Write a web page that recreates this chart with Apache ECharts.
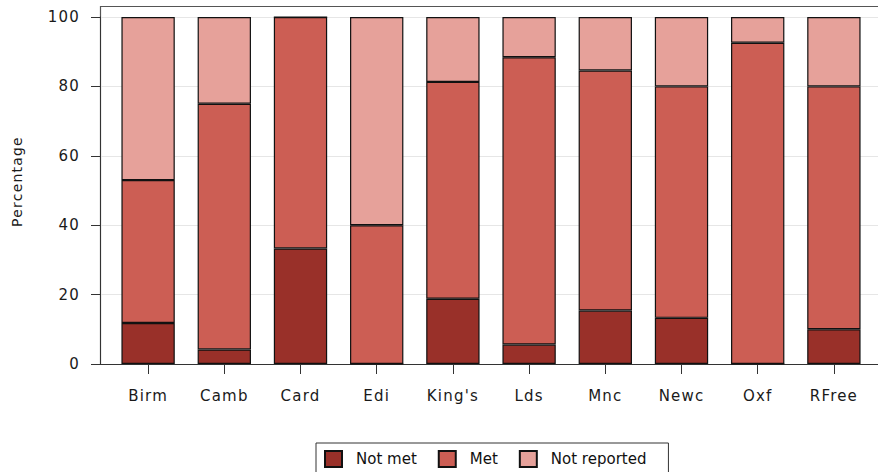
<!DOCTYPE html>
<html>
<head>
<meta charset="utf-8">
<script src="https://cdn.jsdelivr.net/npm/echarts@6/dist/echarts.min.js"></script>
<style>
  html, body { margin: 0; padding: 0; background: #fff; }
  #chart { width: 878px; height: 472px; }
  #chart text[style*="sans-serif"] { letter-spacing: 1.2px; }
</style>
</head>
<body>
<div id="chart"></div>
<script>
const categories = ['Birm', 'Camb', 'Card', 'Edi', "King's", 'Lds', 'Mnc', 'Newc', 'Oxf', 'RFree'];
const notMet = [11.8, 4.2, 33.3, 0, 18.8, 5.6, 15.4, 13.3, 0, 10];
const met = [41.2, 70.8, 66.7, 40, 62.5, 82.8, 69.2, 66.7, 92.6, 70];
const notReported = [47.0, 25, 0, 60, 18.7, 11.6, 15.4, 20, 7.4, 20];
const yTicks = [0, 20, 40, 60, 80, 100];

const axisFont = { fontFamily: 'DejaVu Sans, sans-serif', fontSize: 15, color: '#1a1a1a' };
const barBorder = { borderColor: '#111', borderWidth: 1.2 };

const chart = echarts.init(document.getElementById('chart'), null, { renderer: 'svg' });
chart.setOption({
  animation: false,
  backgroundColor: '#fff',
  grid: [
    { left: 100, right: 0, top: 17, bottom: 108 },
    { left: 110, right: 6, top: 17, bottom: 108 }
  ],
  xAxis: [
    { gridIndex: 0, type: 'value', min: 0, max: 1, position: 'bottom',
      axisLine: { show: true, lineStyle: { color: '#333', width: 1 } },
      axisTick: { show: false }, axisLabel: { show: false }, splitLine: { show: false } },
    { gridIndex: 1, type: 'category', data: categories,
      axisLine: { show: false },
      axisTick: { show: true, alignWithLabel: true, length: 10, lineStyle: { color: '#333' } },
      axisLabel: Object.assign({ margin: 24, interval: 0 }, axisFont) }
  ],
  yAxis: [
    { gridIndex: 0, type: 'value', min: yTicks[0], max: yTicks[yTicks.length - 1], interval: 20,
      name: 'Percentage', nameLocation: 'middle', nameGap: 76,
      nameTextStyle: Object.assign({ padding: [0, 0, 0, 18] }, axisFont, { fontSize: 14 }),
      axisLine: { show: true, lineStyle: { color: '#333', width: 1 } },
      axisTick: { show: true, length: 9, lineStyle: { color: '#333' } },
      axisLabel: Object.assign({ margin: 20 }, axisFont),
      splitLine: { show: true, lineStyle: { color: '#e6e6e6', width: 1 } } },
    { gridIndex: 1, type: 'value', min: 0, max: 100, show: false }
  ],
  legend: {
    left: 316, top: 443,
    padding: [7, 22, 6, 8],
    borderColor: '#333', borderWidth: 1,
    itemWidth: 17, itemHeight: 16, itemGap: 21,
    icon: 'rect',
    textStyle: { fontFamily: 'DejaVu Sans', fontSize: 15, color: '#111', padding: [0, 0, 0, 9] },
    data: ['Not met', 'Met', 'Not reported']
  },
  graphic: [
    { type: 'polyline', silent: true,
      shape: { points: [[100.5, 364], [100.5, 6.5], [878, 6.5]] },
      style: { stroke: '#555', lineWidth: 1.2, fill: null } }
  ],
  series: [
    { name: 'Not met', type: 'bar', stack: 'all', xAxisIndex: 1, yAxisIndex: 1,
      barWidth: '70%', data: notMet,
      itemStyle: Object.assign({ color: '#993029' }, barBorder) },
    { name: 'Met', type: 'bar', stack: 'all', xAxisIndex: 1, yAxisIndex: 1,
      barWidth: '70%', data: met,
      itemStyle: Object.assign({ color: '#cc5e54' }, barBorder) },
    { name: 'Not reported', type: 'bar', stack: 'all', xAxisIndex: 1, yAxisIndex: 1,
      barWidth: '70%', data: notReported,
      itemStyle: Object.assign({ color: '#e6a19a' }, barBorder) }
  ]
});
</script>
</body>
</html>
